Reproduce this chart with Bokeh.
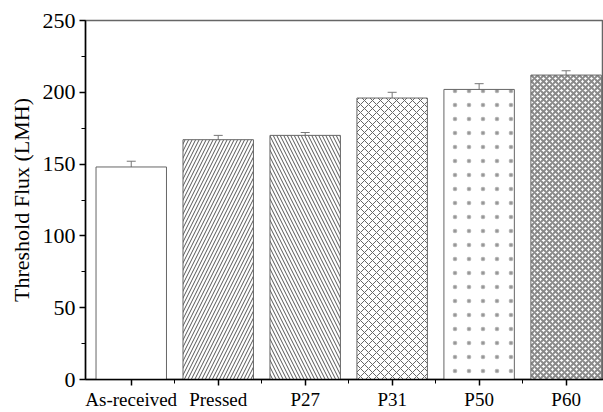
from bokeh.plotting import figure
from bokeh.models import ColumnDataSource, Whisker, TeeHead, FixedTicker, Range1d, ImageURLTexture
from bokeh.embed import file_html
from bokeh.resources import INLINE
import base64

categories = ["As-received", "Pressed", "P27", "P31", "P50", "P60"]
flux = [148, 167, 170, 196, 202, 212]
err = [4, 3, 2, 4, 4, 3]
hatches = [" ", "/", "\\", "x", "dots", "x"]
hatch_colors = ["#777777", "#555555", "#555555", "#666666", "#aaaaaa", "#8a8a8a"]
hatch_scales = [10, 7, 7, 8, 14, 6]
hatch_weights = [1, 1, 1, 1, 1, 2]

svg = ('<svg xmlns="http://www.w3.org/2000/svg" width="14" height="14">'
       '<circle cx="7" cy="7" r="2.3" fill="#b4b4b4"/>'
       '<circle cx="7" cy="7" r="1.1" fill="#909090"/></svg>')
dot_url = "data:image/svg+xml;base64," + base64.b64encode(svg.encode()).decode()

xs = list(range(1, len(categories) + 1))
src = ColumnDataSource(dict(
    x=xs, top=flux,
    upper=[f + e for f, e in zip(flux, err)],
    lower=[f - e for f, e in zip(flux, err)],
    hatch=hatches, hcol=hatch_colors, hscale=hatch_scales, hw=hatch_weights,
))

FONT = "Liberation Serif"
p = figure(width=603, height=412, output_backend="svg", toolbar_location=None,
           x_range=Range1d(0.474, 6.43), y_range=Range1d(0, 250),
           min_border_left=85, min_border_right=0, min_border_top=20, min_border_bottom=33)
p.vbar(x="x", top="top", width=0.81, source=src, fill_color="white",
       line_color="#666666", line_width=1,
       hatch_pattern="hatch", hatch_color="hcol", hatch_scale="hscale", hatch_weight="hw",
       hatch_extra={"dots": ImageURLTexture(url=dot_url)})
w = Whisker(base="x", upper="upper", lower="lower", source=src, line_color="#777777",
            upper_head=TeeHead(size=9, line_color="#777777"),
            lower_head=TeeHead(size=9, line_color="#777777"))
p.add_layout(w)

p.grid.visible = False
p.outline_line_color = "#666666"
p.outline_line_width = 1.5

p.xaxis.ticker = FixedTicker(ticks=xs, minor_ticks=[1.5, 2.5, 3.5, 4.5, 5.5])
p.xaxis.major_label_overrides = {x: c for x, c in zip(xs, categories)}
p.yaxis.ticker = FixedTicker(ticks=[0, 50, 100, 150, 200, 250],
                             minor_ticks=[25, 75, 125, 175, 225])
p.yaxis.axis_label = "Threshold Flux (LMH)"
for ax in (p.xaxis[0], p.yaxis[0]):
    ax.axis_line_color = "black"
    ax.axis_line_width = 1.5
    ax.major_tick_line_color = "black"
    ax.minor_tick_line_color = "black"
    ax.major_tick_line_width = 1.5
    ax.major_tick_in = 0
    ax.major_tick_out = 6
    ax.minor_tick_in = 0
    ax.minor_tick_out = 4
    ax.major_label_text_font = FONT
    ax.major_label_text_color = "black"
    ax.axis_label_text_font = FONT
    ax.axis_label_text_font_style = "normal"
    ax.axis_label_text_color = "black"
p.yaxis.major_label_text_font_size = "22px"
p.xaxis.major_label_text_font_size = "19px"
p.yaxis.axis_label_text_font_size = "22px"
p.xaxis.major_label_standoff = 3
p.yaxis.major_label_standoff = 4
p.yaxis.axis_label_standoff = 6

open("out.html", "w").write(file_html(p, INLINE))
